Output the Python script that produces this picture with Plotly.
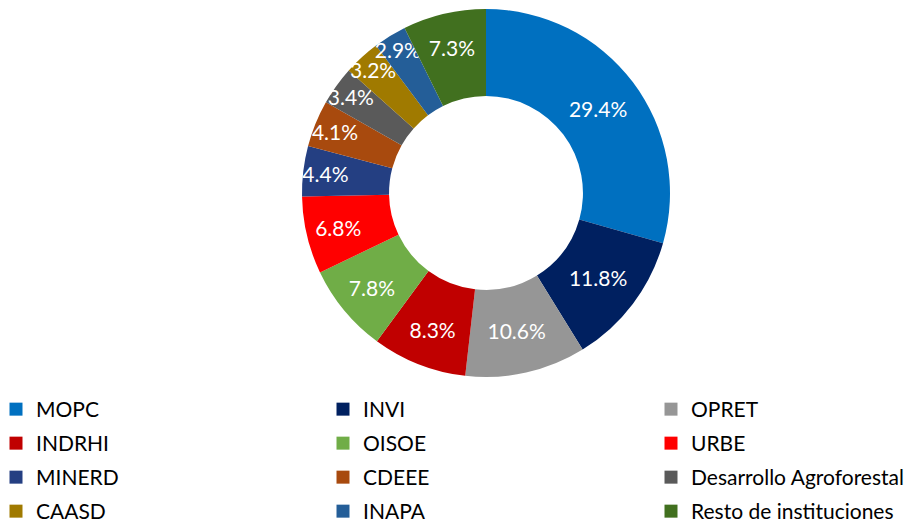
import plotly.graph_objects as go

labels = ["MOPC", "INVI", "OPRET", "INDRHI", "OISOE", "URBE", "MINERD", "CDEEE",
          "Desarrollo Agroforestal", "CAASD", "INAPA", "Resto de instituciones"]
values = [29.4, 11.8, 10.6, 8.3, 7.8, 6.8, 4.4, 4.1, 3.4, 3.2, 2.9, 7.3]
colors = ["#0070C0", "#002060", "#969696", "#C00000", "#70AD47", "#FF0000",
          "#243F82", "#A84A0E", "#5A5A5A", "#A07A00", "#245E98", "#41701F"]
text_labels = [f"{v:.1f}%" for v in values]

FONT = "Lato, Carlito, Calibri, sans-serif"
# figure is placed with an 8px page offset
W, H = 909, 516
cx, cy, r = 478, 185, 184

fig = go.Figure()
fig.add_trace(go.Pie(
    labels=labels,
    values=values,
    text=text_labels,
    textinfo="text",
    textposition="inside",
    insidetextorientation="horizontal",
    textfont=dict(family=FONT, size=21, color="white"),
    marker=dict(colors=colors, line=dict(color="white", width=0)),
    hole=0.527,
    sort=False,
    direction="clockwise",
    rotation=0,
    showlegend=False,
    domain=dict(x=[(cx - r) / W, (cx + r) / W], y=[(H - cy - r) / H, (H - cy + r) / H]),
))

# legend entries: three columns, filled row by row
legend_ids = ["legend", "legend2", "legend3"]
for i, (lab, col) in enumerate(zip(labels, colors)):
    fig.add_trace(go.Scatter(
        x=[None], y=[None], mode="markers", name=lab,
        marker=dict(symbol="square", size=13, color=col),
        legend=legend_ids[i % 3], legendgroup=lab, showlegend=True,
        hoverinfo="skip",
    ))

col_x = [-12, 315, 643]
leg_top = 381
common = dict(
    orientation="v", yanchor="top", xanchor="left",
    y=1 - leg_top / H,
    traceorder="grouped", tracegroupgap=3.7,
    font=dict(family=FONT, size=21, color="#000000"),
    bgcolor="rgba(0,0,0,0)",
)
fig.update_layout(
    width=W, height=H,
    margin=dict(l=0, r=0, t=0, b=0, autoexpand=False),
    paper_bgcolor="white", plot_bgcolor="white",
    xaxis=dict(visible=False), yaxis=dict(visible=False),
    legend=dict(x=col_x[0] / W, **common),
    legend2=dict(x=col_x[1] / W, **common),
    legend3=dict(x=col_x[2] / W, **common),
    uniformtext=dict(minsize=21, mode="show"),
)

fig.write_html("out.html")
